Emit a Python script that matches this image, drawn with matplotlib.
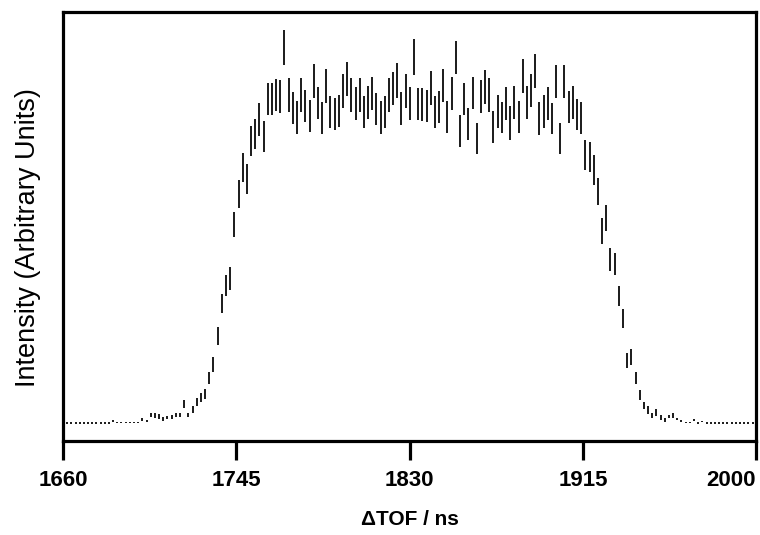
import numpy as np
import matplotlib.pyplot as plt

# time-of-flight bins (ns)
tof_start = 1662
tof_step = 2.05

# intensity (arbitrary units), one value per bin
counts = [
    0, 0, 0, 0, 0, 0, 0, 0, 0, 0, 0, 2, 0.5, 0.5, 0.5, 0.5, 0.5, 0.5, 3.5, 2,
    7.7, 7.3, 6.6, 4, 5.3, 6, 7.7, 7.7, 18.8, 8, 13.6, 20.8, 25.8, 28.7, 45.2, 58.8,
    86.7, 119.2, 137.5, 144.7, 198.5, 229, 256, 244, 282, 289, 304, 286.5, 324, 324,
    328.5, 327, 375.5, 328, 315, 305.5, 328, 317, 307, 342, 320, 305, 337.5, 311,
    309, 312.5, 332.5, 344, 328, 320, 328, 311, 321, 330, 314, 306, 311, 328,
    335, 343, 315, 332, 320, 366, 319, 319, 317, 335, 311, 316, 338, 306,
    330, 366, 292, 324, 299, 330, 285, 327, 336, 328, 296, 312, 305.5, 320,
    300, 321, 306, 347.5, 321, 333, 352.7, 305, 312, 320, 304.5, 342, 285, 342,
    316, 321, 308.5, 305, 268, 266, 253, 232, 192, 205, 164, 159, 127, 104,
    62, 66, 45, 28, 17.5, 12.7, 7.5, 10.5, 5.5, 3, 6.3, 7.5, 3.7, 1.5,
    0.5, 0.5, 3, 0, 1.5, 0, 0, 0, 0, 0, 0, 0, 0, 0, 0, 0, 0,
]

errors = [
    0.8, 0.8, 0.8, 0.8, 0.8, 0.8, 0.8, 0.8, 0.8, 0.8, 0.8, 1, 0.8, 0.8, 0.8, 0.8, 0.8, 0.8, 1.2, 1.2,
    2, 2.3, 2.3, 1.7, 1.7, 1.7, 2, 2, 4.2, 2.3, 3.3, 3.8, 4.5, 5, 6.2, 7.5,
    9, 9.5, 10.5, 11.7, 12.8, 13.7, 14.5, 14.7, 14.7, 15, 16.5, 15.8, 16.3, 16.3,
    16.2, 16.5, 17.5, 17, 16.3, 16.5, 17, 16, 16.3, 17.2, 16.3, 16, 17.2, 16.3,
    16.3, 16.2, 17.2, 17.2, 17, 16.7, 17, 16.3, 16.7, 16.7, 15.8, 16.7, 16.3, 17,
    16.7, 17.3, 16.7, 17.2, 16.5, 17.8, 16.2, 16.5, 16.3, 17, 16.3, 16.3, 16.3, 16.2,
    16.7, 16.7, 15.8, 16.3, 15.8, 16.3, 15.5, 16.5, 17, 17, 15.8, 16.5, 15.8, 16.7,
    17, 16.7, 16.2, 17.2, 16.7, 16.7, 17, 16.7, 16.5, 16.7, 15.8, 16.7, 15.5, 16.7,
    16.3, 16.7, 15.5, 16, 15, 15, 15, 13.5, 13, 12.8, 11.5, 10.8, 10.3, 9.5,
    7.5, 7.8, 6.2, 4.7, 3.8, 3.7, 2.8, 3.2, 2.5, 1.7, 1.7, 2.5, 1.3, 1,
    0.8, 0.8, 1, 0.8, 0.8, 0.8, 0.8, 0.8, 0.8, 0.8, 0.8, 0.8, 0.8, 0.8, 0.8, 0.8, 0.8,
]

tick_values = [1660, 1745, 1830, 1915, 2000]

tof = tof_start + tof_step * np.arange(len(counts))

plt.rcParams['font.family'] = ['Liberation Sans', 'DejaVu Sans']

fig = plt.figure(figsize=(7.6, 5.35), dpi=100)
ax = fig.add_axes([0.083, 0.176, 0.912, 0.801])

ax.errorbar(tof, counts, yerr=errors, fmt='none', ecolor='#1a1a1a',
            elinewidth=1.4, capsize=0)

ax.set_xlim(1660, 2000)
ax.set_ylim(-18, 411)
ax.set_xticks(tick_values)
ax.set_yticks([])

for side in ['top', 'bottom', 'left', 'right']:
    ax.spines[side].set_linewidth(2.3)
ax.tick_params(axis='x', direction='out', length=14, width=2.3, pad=7,
               labelsize=16)
for lab in ax.get_xticklabels():
    lab.set_fontweight('bold')
# last label sits inside the figure edge
ax.get_xticklabels()[-1].set_horizontalalignment('right')

ax.set_xlabel('\u0394TOF / ns', fontsize=15, fontweight='bold', labelpad=14)
ax.set_ylabel('Intensity (Arbitrary Units)', fontsize=19.5, labelpad=16)
ax.yaxis.label.set_y(0.475)

fig.savefig('out.png', dpi=100)
